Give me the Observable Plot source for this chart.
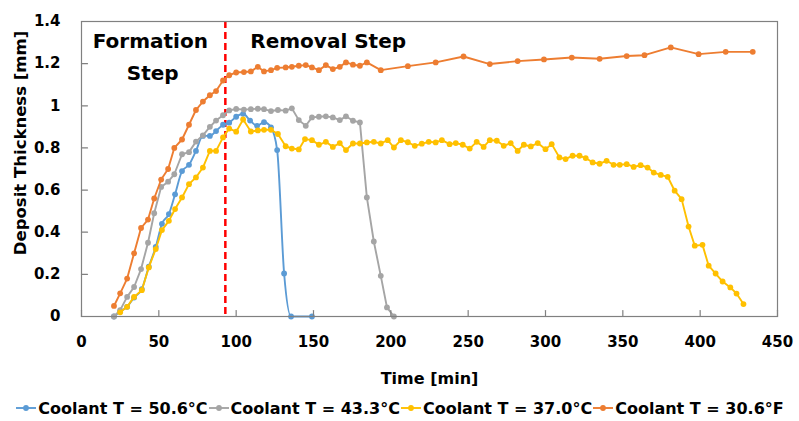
<!DOCTYPE html>
<html>
<head>
<meta charset="utf-8">
<script src="https://cdn.jsdelivr.net/npm/d3@7"></script>
<script src="https://cdn.jsdelivr.net/npm/@observablehq/plot@0.6"></script>
<style>
  html, body { margin: 0; padding: 0; background: #fff; }
  #chart { width: 799px; }
  .legend { display: flex; justify-content: center; align-items: center; height: 26px;
    font-family: "DejaVu Sans", sans-serif; font-weight: 700; font-size: 16px; color: #000; }
  .legend .item { display: flex; align-items: center; }
  .legend svg { margin-right: 1px; }
</style>
</head>
<body>
<div id="chart"></div>
<script>
// Time [min], deposit thickness [mm]
const coolant506 = [[21,0],[25,0.024],[29.5,0.046],[34,0.09],[39,0.13],[43.5,0.236],[48,0.33],[52,0.44],[56.5,0.486],[60.5,0.58],[65,0.69],[69.5,0.72],[74,0.786],[78.5,0.857],[83,0.857],[87,0.88],[91.5,0.91],[95.5,0.92],[100,0.948],[104.5,0.962],[109,0.93],[113.5,0.905],[118,0.922],[122.5,0.898],[126.5,0.79],[131,0.204],[135.5,0],[149,0]];
const coolant433 = [[21,0],[25,0.03],[29.5,0.093],[34,0.14],[38.5,0.225],[43,0.35],[47,0.49],[51.5,0.615],[56,0.64],[60,0.675],[65,0.77],[69.5,0.78],[74,0.83],[78.5,0.86],[83,0.9],[87,0.93],[91.5,0.955],[95.5,0.978],[100,0.985],[105,0.982],[109.5,0.984],[114,0.986],[118,0.984],[122.5,0.975],[127,0.98],[132,0.977],[136,0.988],[140.5,0.932],[145,0.905],[149,0.945],[153.5,0.948],[158,0.95],[162.5,0.945],[167,0.932],[171,0.95],[175.5,0.929],[180,0.921],[184.5,0.565],[189,0.356],[193.5,0.193],[197.5,0.043],[202,0]];
const coolant370 = [[25,0.02],[29.5,0.046],[34,0.093],[39,0.125],[43.5,0.233],[48,0.32],[52,0.41],[56.5,0.454],[60.5,0.51],[65,0.565],[69.5,0.628],[74,0.66],[78.5,0.707],[83,0.786],[87,0.786],[91.5,0.85],[95.5,0.892],[100,0.877],[104.5,0.935],[109.5,0.878],[114,0.883],[118,0.886],[122.5,0.886],[127,0.866],[132,0.808],[136,0.797],[140.5,0.793],[144.5,0.842],[149,0.837],[153.5,0.815],[158,0.829],[162.5,0.805],[167,0.823],[171,0.79],[175.5,0.821],[180,0.821],[184.5,0.826],[189,0.829],[193.5,0.821],[198,0.837],[202,0.802],[206.5,0.837],[211,0.827],[215.5,0.81],[220,0.82],[224.5,0.829],[229,0.826],[233,0.837],[238,0.818],[242,0.823],[246.5,0.815],[251,0.797],[255.5,0.829],[260,0.805],[264,0.837],[268.5,0.834],[273,0.81],[277.5,0.823],[282,0.786],[286,0.815],[290.5,0.807],[295,0.823],[300,0.794],[304,0.818],[309,0.755],[313,0.747],[317.5,0.763],[322,0.763],[326,0.752],[330.5,0.731],[335,0.725],[339.5,0.739],[344,0.72],[348,0.72],[352.5,0.723],[357,0.71],[361.5,0.718],[366,0.707],[370,0.683],[374.5,0.672],[379,0.663],[383.5,0.597],[388,0.557],[392.5,0.427],[396.5,0.336],[401.5,0.34],[405.5,0.241],[410,0.204],[414.5,0.166],[419.5,0.138],[423.5,0.109],[428,0.059]];
const coolant306 = [[21,0.05],[25,0.11],[29.5,0.18],[34,0.3],[38.5,0.42],[43,0.46],[47,0.56],[51.5,0.65],[56,0.7],[60,0.8],[65,0.84],[69.5,0.91],[74,0.98],[78.5,1.02],[83,1.05],[87,1.07],[91.5,1.12],[95.5,1.145],[100,1.158],[105,1.16],[109.5,1.163],[114,1.185],[118,1.163],[122.5,1.169],[126.5,1.18],[132,1.182],[136,1.185],[140.5,1.19],[145,1.193],[149,1.182],[153.5,1.169],[158,1.193],[162.5,1.174],[167,1.185],[171,1.206],[175.5,1.195],[180,1.19],[184.5,1.206],[193.5,1.169],[211,1.188],[229,1.206],[247,1.234],[264,1.198],[282,1.212],[299,1.22],[317,1.229],[335,1.223],[352.5,1.236],[364,1.24],[381,1.277],[399,1.245],[416.5,1.256],[434,1.256]];

const seriesNames = ["Coolant T = 50.6°C", "Coolant T = 43.3°C", "Coolant T = 37.0°C", "Coolant T = 30.6°F"];
const seriesColors = ["#5B9BD5", "#A5A5A5", "#FFC000", "#ED7D31"];
const seriesData = [coolant506, coolant433, coolant370, coolant306];
const stepBoundary = [93];
const xTicks = [0, 50, 100, 150, 200, 250, 300, 350, 400, 450];
const yTicks = [0, 0.2, 0.4, 0.6, 0.8, 1, 1.2, 1.4];
const stepLabels = [
  {t: 44.5, v: 1.305, text: "Formation"},
  {t: 46, v: 1.155, text: "Step"},
  {t: 159.5, v: 1.305, text: "Removal Step"}
];

const FONT = "'DejaVu Sans', sans-serif";
const rows = seriesData.flatMap((arr, i) => arr.map(([t, v]) => ({t, v, s: seriesNames[i]})));
const tickShape = {draw(ctx, l) { ctx.moveTo(0, 0); ctx.lineTo(0, -l); }};

const seriesMarks = seriesData.flatMap((arr, i) => {
  const d = rows.filter(r => r.s === seriesNames[i]);
  return [
    Plot.line(d, {x: "t", y: "v", stroke: seriesColors[i], strokeWidth: 1.9,
      curve: i === 0 ? "monotone-x" : "linear"}),
    Plot.dot(d, {x: "t", y: "v", r: 2.9, fill: seriesColors[i], stroke: "none"})
  ];
});

const chart = Plot.plot({
  width: 799,
  height: 395,
  marginLeft: 81,
  marginRight: 22,
  marginTop: 21,
  marginBottom: 79,
  style: {fontFamily: FONT, fontSize: "15px", fontWeight: "700", color: "#000", background: "#fff"},
  x: {domain: [0, 450]},
  y: {domain: [0, 1.4]},
  marks: [
    Plot.ruleX(stepBoundary, {stroke: "#FF0000", strokeWidth: 2.5, strokeDasharray: "7,4"}),
    ...seriesMarks,
    Plot.frame({stroke: "#808080", strokeWidth: 1.2}),
    Plot.vector(xTicks, {x: d => d, y: 0, length: 6, rotate: 0, anchor: "start", shape: tickShape, stroke: "#808080", strokeWidth: 1.2}),
    Plot.vector(yTicks, {x: 0, y: d => d, length: 6, rotate: 90, anchor: "start", shape: tickShape, stroke: "#808080", strokeWidth: 1.2}),
    Plot.axisX({ticks: xTicks, tickSize: 0, tickPadding: 20, label: null, fontSize: 15, fontWeight: 700, fill: "#000"}),
    Plot.axisY({ticks: yTicks, tickSize: 0, tickPadding: 21, label: null, fontSize: 15, fontWeight: 700, fill: "#000",
      tickFormat: d => d3.format("~g")(d)}),
    Plot.text(["Time [min]"], {frameAnchor: "bottom", dy: 67, fontSize: 16, fontWeight: 700, fill: "#000"}),
    Plot.text(["Deposit Thickness [mm]"], {frameAnchor: "left", textAnchor: "middle", dx: -61, dy: -26, rotate: -90, fontSize: 16.5, fontWeight: 700, fill: "#000"}),
    Plot.text(stepLabels, {x: "t", y: "v", text: "text", fontSize: 20, fontWeight: 700, fill: "#000"})
  ]
});
document.getElementById("chart").appendChild(chart);

const legend = document.createElement("div");
legend.className = "legend";
seriesNames.forEach((name, i) => {
  const item = document.createElement("div");
  item.className = "item";
  item.innerHTML = `<svg width="22" height="10"><line x1="1" x2="21" y1="5" y2="5" stroke="${seriesColors[i]}" stroke-width="1.9"/><circle cx="11" cy="5" r="2.9" fill="${seriesColors[i]}"/></svg><span>${name}</span>`;
  legend.appendChild(item);
});
document.getElementById("chart").appendChild(legend);
</script>
</body>
</html>
